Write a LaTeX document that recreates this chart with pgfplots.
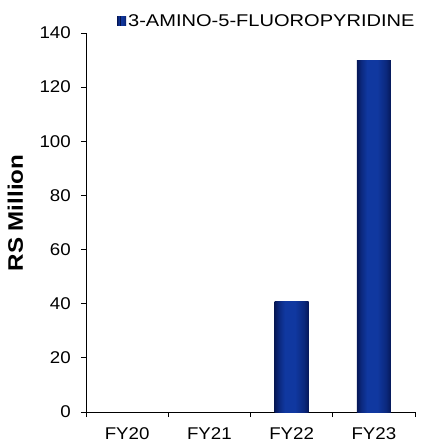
\documentclass[border=0pt]{standalone}
\usepackage{pgfplots}
\pgfplotsset{compat=1.18}
\usepackage{fontspec}
\setmainfont{Liberation Sans}[FakeStretch=1.1]
\newfontfamily\legfont{Liberation Sans}[FakeStretch=1.18]
\newfontfamily\labfont{Liberation Sans}[FakeStretch=1.15]

\definecolor{navydark}{RGB}{6,24,88}
\definecolor{navylight}{RGB}{16,56,160}
\definecolor{navymid}{RGB}{11,40,125}

% dark edges, lighter band left of centre
\pgfdeclarehorizontalshading{barshade}{100bp}{
  color(0bp)=(navydark); color(25bp)=(navydark); color(31bp)=(navymid);
  color(40bp)=(navylight); color(55bp)=(navylight); color(68bp)=(navymid);
  color(75bp)=(navydark); color(100bp)=(navydark)}

\pgfplotsset{shadedbar/.style={ybar, bar width=34pt, bar shift=0pt,
  draw=none, shade, shading=barshade}}

\begin{document}
\begin{tikzpicture}
\path[use as bounding box] (-86pt,-31pt) rectangle (334pt,412pt);
\begin{axis}[
  at={(0pt,0pt)}, anchor=south west,
  scale only axis,
  width=329pt, height=379pt,
  xmin=-0.5, xmax=3.5,
  ymin=0, ymax=140,
  ytick={0,20,...,140},
  xtick={0,1,2,3},
  xticklabels={FY20,FY21,FY22,FY23},
  minor xtick={-0.5,0.5,1.5,2.5,3.5},
  major x tick style={draw=none},
  tick align=outside,
  tick pos=left,
  major tick length=5pt,
  minor tick length=5pt,
  every tick/.style={black, line width=0.8pt},
  axis x line*=bottom,
  axis y line*=left,
  axis line style={black, line width=0.8pt, -},
  /pgf/number format/assume math mode=true,
  tick label style={font=\fontsize{17}{20}\selectfont, black},
  yticklabel style={inner sep=0pt, xshift=-10pt},
  xticklabel style={inner sep=0pt, yshift=-10pt},
  ylabel={RS Million},
  ylabel style={font=\labfont\fontsize{21}{24}\selectfont\bfseries, at={(axis description cs:-0.215,0.525)}, anchor=center, rotate=0},
  legend style={draw=none, fill=none, inner sep=0pt,
    at={(axis description cs:0.094,1.032)}, anchor=west,
    font=\legfont\fontsize{17}{20}\selectfont, cells={anchor=west}},
  legend image code/.code={\fill[navydark] (0pt,-4.5pt) rectangle (9pt,4.5pt);
    \fill[navylight] (3pt,-4.5pt) rectangle (6pt,4.5pt);},
  clip=false,
]
% one plot per bar so each bar carries its own shading
\addplot[shadedbar] coordinates {(2,41)};
\addlegendentry{3-AMINO-5-FLUOROPYRIDINE}
\addplot[shadedbar, forget plot] coordinates {(3,130)};
\addplot[shadedbar, forget plot] coordinates {(0,0)};
\addplot[shadedbar, forget plot] coordinates {(1,0)};
\end{axis}
\end{tikzpicture}
\end{document}
